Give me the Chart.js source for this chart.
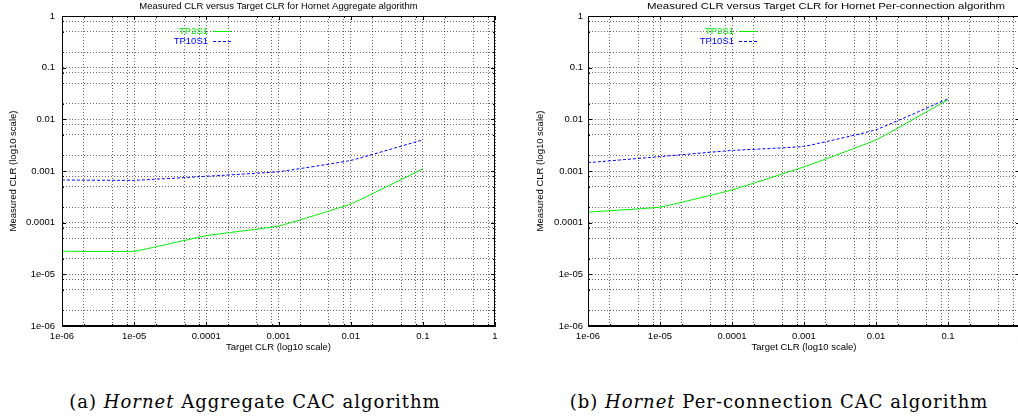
<!DOCTYPE html>
<html>
<head>
<meta charset="utf-8">
<title>Hornet CAC algorithms - measured vs target CLR</title>
<script src="https://cdn.jsdelivr.net/npm/chart.js@4.4.1/dist/chart.umd.min.js"></script>
<style>
  html, body { margin: 0; padding: 0; background: #fff; }
  #page { position: relative; width: 1018px; height: 419px; overflow: hidden; }
  .plot { position: absolute; top: 0; height: 360px; }
  #plot-agg { left: 0; width: 510px; }
  #plot-per { left: 510px; width: 525px; }
  .caption {
    position: absolute; top: 391px; white-space: nowrap;
    font-family: "DejaVu Serif", "Liberation Serif", serif; font-size: 18px;
    letter-spacing: 1px; transform: translateX(-50%); color: #000;
  }
</style>
</head>
<body>
<div id="page">
  <div class="plot" id="plot-agg"><canvas id="chart-agg"></canvas></div>
  <div class="plot" id="plot-per"><canvas id="chart-per"></canvas></div>
  <div class="caption" style="left:255px">(a) <i>Hornet</i> Aggregate CAC algorithm</div>
  <div class="caption" style="left:779px">(b) <i>Hornet</i> Per-connection CAC algorithm</div>
</div>
<script>
// target CLR values (x) shared by both plots
const targetClr = [1e-6, 1e-5, 1e-4, 1e-3, 1e-2, 1e-1];

// measured CLR, Aggregate algorithm
const aggTP2S1 = [2.8e-5, 2.8e-5, 5.6e-5, 8.6e-5, 2.3e-4, 1.1e-3];
const aggTP10S1 = [6.7e-4, 6.6e-4, 7.9e-4, 9.7e-4, 1.6e-3, 4.0e-3];

// measured CLR, Per-connection algorithm
const perTP2S1 = [1.6e-4, 2.0e-4, 4.3e-4, 1.2e-3, 4.0e-3, 0.024];
const perTP10S1 = [1.45e-3, 1.9e-3, 2.5e-3, 3.0e-3, 6.3e-3, 0.025];

const seriesNames = ['TP2S1', 'TP10S1'];

// axis decades and their labels (gnuplot %g style)
const yDecades = [1e-6, 1e-5, 1e-4, 1e-3, 1e-2, 1e-1, 1];
const yDecadeLabels = ['1e-06', '1e-05', '0.0001', '0.001', '0.01', '0.1', '1'];
const xDecades = [1e-6, 1e-5, 1e-4, 1e-3, 1e-2, 1e-1, 1];
const xDecadeLabels = ['1e-06', '1e-05', '0.0001', '0.001', '0.01', '0.1', '1'];
const minorSteps = [2, 5, 8];

const FONT = '"Liberation Sans", Arial, sans-serif';
const FSIZE = 9.5;
const GREEN = '#00ee00';
const BLUE = '#0000ff';

function gridTicks(decades) {
  const ticks = [];
  decades.forEach(function (d, i) {
    ticks.push({ value: d, major: true });
    if (i < decades.length - 1) {
      minorSteps.forEach(function (m) { ticks.push({ value: d * m }); });
    }
  });
  return ticks;
}

function points(ys) {
  return targetClr.map(function (x, i) { return { x: x, y: ys[i] }; });
}

// frame round the plot area, with gnuplot style inward tick marks
const framePlugin = {
  id: 'frame',
  afterDatasetsDraw(chart) {
    const a = chart.chartArea, ctx = chart.ctx;
    ctx.save();
    ctx.strokeStyle = '#000';
    ctx.lineWidth = 1;
    ctx.strokeRect(a.left + 0.5, a.top + 0.5, a.right - a.left - 1, a.bottom - a.top - 1);
    ctx.beginPath();
    chart.scales.x.ticks.forEach(function (t) {
      const px = Math.round(chart.scales.x.getPixelForValue(t.value)) + 0.5;
      const len = t.major ? 4 : 2;
      ctx.moveTo(px, a.bottom); ctx.lineTo(px, a.bottom - len);
      ctx.moveTo(px, a.top); ctx.lineTo(px, a.top + len);
    });
    chart.scales.y.ticks.forEach(function (t) {
      const py = Math.round(chart.scales.y.getPixelForValue(t.value)) + 0.5;
      const len = t.major ? 4 : 2;
      ctx.moveTo(a.left, py); ctx.lineTo(a.left + len, py);
      ctx.moveTo(a.right, py); ctx.lineTo(a.right - len, py);
    });
    ctx.stroke();
    ctx.restore();
  }
};

// title above the plot and the key in the upper left
const labelsPlugin = {
  id: 'plotLabels',
  afterDraw(chart, args, opts) {
    const a = chart.chartArea, ctx = chart.ctx;
    ctx.save();
    ctx.font = FSIZE + 'px ' + FONT;
    ctx.fillStyle = '#000';
    ctx.textAlign = 'center';
    ctx.textBaseline = 'middle';
    ctx.save();
    ctx.translate((a.left + a.right) / 2 + opts.titleShift, 6);
    ctx.scale(opts.titleStretch, 1);
    ctx.fillText(opts.title, 0, 0);
    ctx.restore();

    ctx.textAlign = 'right';
    chart.data.datasets.forEach(function (ds, i) {
      const tx = a.left + opts.keyX;
      const ty = a.top + 15 + i * 10;
      ctx.fillStyle = ds.borderColor;
      ctx.fillText(ds.label, tx, ty);
      ctx.strokeStyle = ds.borderColor;
      ctx.lineWidth = 1;
      ctx.setLineDash(ds.borderDash || []);
      ctx.beginPath();
      ctx.moveTo(tx + 5, Math.round(ty) + 0.5);
      ctx.lineTo(tx + 23, Math.round(ty) + 0.5);
      ctx.stroke();
    });
    ctx.restore();
  }
};

function makePlot(canvasId, title, titleShift, titleStretch, s1, s2, yWidth, yLabelPad, yTickPad) {
  return new Chart(document.getElementById(canvasId), {
    type: 'line',
    data: {
      datasets: [{
        label: seriesNames[0],
        data: points(s1),
        borderColor: GREEN,
        borderWidth: 1,
        pointRadius: 0,
        tension: 0.1,
        fill: false
      }, {
        label: seriesNames[1],
        data: points(s2),
        borderColor: BLUE,
        borderWidth: 1,
        borderDash: [3, 2],
        pointRadius: 0,
        tension: 0.1,
        fill: false
      }]
    },
    options: {
      responsive: true,
      maintainAspectRatio: false,
      animation: false,
      layout: { padding: { top: 16, right: 15, left: 0, bottom: 0 } },
      plugins: {
        legend: { display: false },
        title: { display: false },
        tooltip: { enabled: false },
        plotLabels: { title: title, titleShift: titleShift, titleStretch: titleStretch, keyX: 146 }
      },
      scales: {
        x: {
          type: 'logarithmic',
          min: xDecades[0],
          max: xDecades[xDecades.length - 1],
          afterBuildTicks: function (scale) { scale.ticks = gridTicks(xDecades); },
          afterFit: function (scale) { scale.height = 34; },
          ticks: {
            autoSkip: false, maxRotation: 0, padding: 5,
            color: '#000', font: { family: FONT, size: FSIZE },
            callback: function (v) {
              const i = xDecades.indexOf(v);
              return i >= 0 ? xDecadeLabels[i] : '';
            }
          },
          grid: { color: 'rgba(0,0,0,0.6)', lineWidth: 1, drawTicks: false },
          border: { display: true, color: '#000', dash: [1, 2] },
          title: {
            display: true, text: 'Target CLR (log10 scale)', color: '#000',
            font: { family: FONT, size: FSIZE }, padding: { top: 0, bottom: 7.3 }
          }
        },
        y: {
          type: 'logarithmic',
          min: yDecades[0],
          max: yDecades[yDecades.length - 1],
          afterBuildTicks: function (scale) { scale.ticks = gridTicks(yDecades); },
          afterFit: function (scale) { scale.width = yWidth; },
          ticks: {
            autoSkip: false, padding: yTickPad,
            color: '#000', font: { family: FONT, size: FSIZE },
            callback: function (v) {
              const i = yDecades.indexOf(v);
              return i >= 0 ? yDecadeLabels[i] : '';
            }
          },
          grid: { color: 'rgba(0,0,0,0.6)', lineWidth: 1, drawTicks: false },
          border: { display: true, color: '#000', dash: [1, 2] },
          title: {
            display: true, text: 'Measured CLR (log10 scale)', color: '#000',
            font: { family: FONT, size: FSIZE }, padding: { top: yLabelPad, bottom: 0 }
          }
        }
      }
    },
    plugins: [framePlugin, labelsPlugin]
  });
}

makePlot('chart-agg', 'Measured CLR versus Target CLR for Hornet Aggregate algorithm', 0, 1,
  aggTP2S1, aggTP10S1, 62, 7.3, 7);
makePlot('chart-per', 'Measured CLR versus Target CLR for Hornet Per-connection algorithm', 22, 1.2,
  perTP2S1, perTP10S1, 78, 24.3, 5);
</script>
</body>
</html>
